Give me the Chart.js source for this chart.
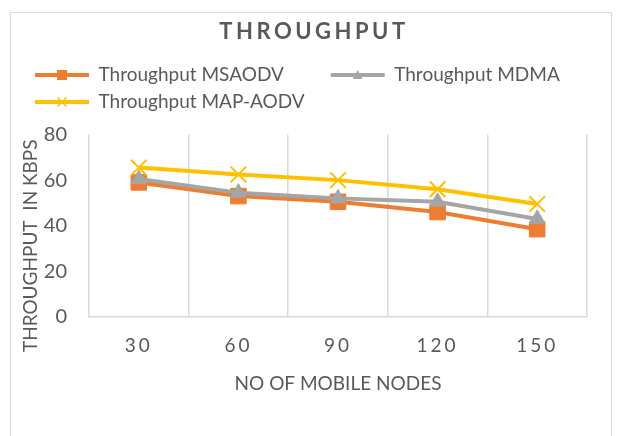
<!DOCTYPE html>
<html><head><meta charset="utf-8">
<script src="https://cdn.jsdelivr.net/npm/chart.js@4.4.1/dist/chart.umd.min.js"></script>
<style>html,body{margin:0;padding:0;background:#fff;} #wrap{width:617px;height:436px;position:relative;}</style>
</head><body><div id="wrap"><canvas id="c"></canvas></div>
<script>
// ---- data ----
const nodes = ['30', '60', '90', '120', '150'];
const msaodv = [59, 53, 50.5, 46, 38.5];
const mdma = [60.5, 54.5, 52, 50.5, 43];
const mapAodv = [65.5, 62.5, 60, 56, 49.5];
const seriesNames = ['Throughput MSAODV', 'Throughput MDMA', 'Throughput MAP-AODV'];
const chartTitle = 'THROUGHPUT';
const xTitle = 'NO OF MOBILE NODES';
const yTitle = 'THROUGHPUT  IN KBPS';
const yMin = 0, yMax = 80, yStep = 20;

const TXT = '#595959';
const FONT = 'Lato, "Open Sans", sans-serif';

class SpacedCategory extends Chart.CategoryScale {
  drawLabels(area) {
    const ctx = this.ctx;
    ctx.save();
    ctx.letterSpacing = '3px';
    super.drawLabels(area);
    ctx.restore();
  }
}
SpacedCategory.id = 'spacedCategory';
SpacedCategory.defaults = Chart.CategoryScale.defaults;
Chart.register(SpacedCategory);

function drawMarker(ctx, style, color, x, y, r) {
  ctx.save();
  ctx.fillStyle = color; ctx.strokeStyle = color; ctx.lineWidth = 1.5;
  ctx.beginPath();
  if (style === 'rect') {
    ctx.rect(x - r, y - r, 2 * r, 2 * r); ctx.fill();
  } else if (style === 'triangle') {
    ctx.moveTo(x, y - r); ctx.lineTo(x + r, y + r * 0.8); ctx.lineTo(x - r, y + r * 0.8); ctx.closePath(); ctx.fill();
  } else {
    ctx.moveTo(x - r, y - r); ctx.lineTo(x + r, y + r); ctx.moveTo(x + r, y - r); ctx.lineTo(x - r, y + r); ctx.stroke();
  }
  ctx.restore();
}

const frame = {
  id: 'frame',
  beforeLayout(chart) {
    const lg = chart.legend;
    if (lg && !lg._wrapped) {
      const f = lg.fit.bind(lg);
      lg.fit = function () { f(); this.height += 13; };
      lg._wrapped = true;
    }
  },
  beforeDraw(chart) {
    const ctx = chart.ctx;
    ctx.save();
    ctx.fillStyle = '#fff';
    ctx.fillRect(0, 0, chart.width, chart.height);
    ctx.strokeStyle = '#D9D9D9'; ctx.lineWidth = 1;
    ctx.strokeRect(10.5, 12.5, 601, 440);
    ctx.restore();
  },
  afterDraw(chart) {
    const ctx = chart.ctx;
    const a = chart.chartArea;
    ctx.save();
    ctx.fillStyle = TXT;
    ctx.font = 'bold 22px ' + FONT;
    ctx.letterSpacing = '3.5px';
    ctx.textAlign = 'center'; ctx.textBaseline = 'middle';
    ctx.fillText(chartTitle, (a.left + a.right) / 2 - 24, 32);
    ctx.letterSpacing = '0px';
    ctx.font = '19px ' + FONT;
    ctx.translate(a.left - 58, (a.top + a.bottom) / 2 + 20);
    ctx.rotate(-Math.PI / 2);
    ctx.fillText(yTitle, 0, 0);
    ctx.restore();
    const lg = chart.legend;
    if (lg && lg.legendHitBoxes) {
      lg.legendItems.forEach((it, i) => {
        const hb = lg.legendHitBoxes[i];
        const ds = chart.data.datasets[it.datasetIndex];
        const bw = lg.options.labels.boxWidth;
        drawMarker(ctx, ds.pointStyle, ds.borderColor, hb.left + bw / 2, hb.top + hb.height / 2, ds.pointStyle === 'crossRot' ? 4.5 : 5);
      });
    }
  }
};

new Chart(document.getElementById('c'), {
  type: 'line',
  data: {
    labels: nodes,
    datasets: [
      { label: seriesNames[0], data: msaodv, borderColor: '#ED7D31', backgroundColor: '#ED7D31', pointStyle: 'rect', pointRadius: 11, pointBorderWidth: 1, borderWidth: 4, order: 3 },
      { label: seriesNames[1], data: mdma, borderColor: '#A5A5A5', backgroundColor: '#A5A5A5', pointStyle: 'triangle', pointRadius: 9, pointBorderWidth: 1, borderWidth: 4, order: 2 },
      { label: seriesNames[2], data: mapAodv, borderColor: '#FFC000', backgroundColor: '#FFC000', pointStyle: 'crossRot', pointRadius: 11, pointBorderWidth: 2, borderWidth: 4, order: 1 }
    ]
  },
  options: {
    responsive: true,
    maintainAspectRatio: false,
    animation: false,
    devicePixelRatio: 1,
    layout: { padding: { left: 27, right: 30, top: 57.5, bottom: 43 } },
    plugins: {
      tooltip: { enabled: false },
      title: { display: false },
      legend: {
        display: true,
        position: 'top',
        align: 'start',
        labels: {
          color: TXT,
          font: { family: FONT, size: 19 },
          boxWidth: 54,
          boxHeight: 4,
          padding: 8,
          generateLabels(chart) {
            return chart.data.datasets.map((ds, i) => ({
              text: i === 0 ? ds.label + '        ' : ds.label,
              fillStyle: ds.borderColor,
              strokeStyle: ds.borderColor,
              lineWidth: 0,
              fontColor: TXT,
              hidden: false,
              datasetIndex: i
            }));
          }
        }
      }
    },
    scales: {
      x: {
        type: 'spacedCategory',
        offset: true,
        grid: { display: true, offset: true, color: '#D9D9D9', lineWidth: 1.5, drawTicks: false },
        border: { display: true, color: '#D9D9D9', width: 1.5 },
        ticks: { color: TXT, font: { family: FONT, size: 19, lineHeight: 1 }, padding: 19, maxRotation: 0 },
        title: { display: true, text: xTitle, color: TXT, font: { family: FONT, size: 19, lineHeight: 1 }, padding: { top: 0, bottom: 0 } }
      },
      y: {
        min: yMin, max: yMax,
        grid: { display: false, drawTicks: false },
        border: { display: false },
        ticks: { stepSize: yStep, color: TXT, font: { family: FONT, size: 20 }, padding: 22 },
        afterFit(scale) { scale.width = 62; }
      }
    }
  },
  plugins: [frame]
});
</script>
</body></html>
